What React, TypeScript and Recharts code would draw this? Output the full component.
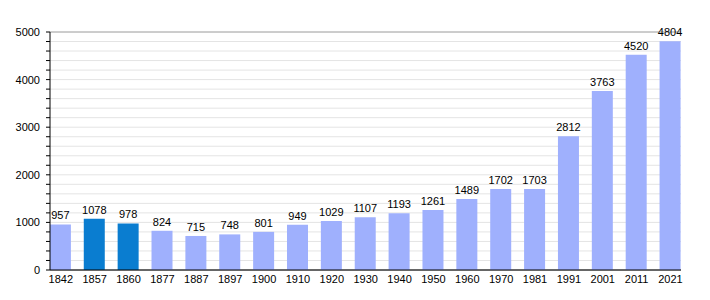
import React from 'react'
import { BarChart, Bar, XAxis, YAxis, CartesianGrid, Cell, LabelList } from 'recharts'

const YEARS = ['1842', '1857', '1860', '1877', '1887', '1897', '1900', '1910', '1920', '1930', '1940', '1950', '1960', '1970', '1981', '1991', '2001', '2011', '2021']
const POPULATION = [957, 1078, 978, 824, 715, 748, 801, 949, 1029, 1107, 1193, 1261, 1489, 1702, 1703, 2812, 3763, 4520, 4804]
const HIGHLIGHTED = ['1857', '1860']
const MAJOR_TICKS = [0, 1000, 2000, 3000, 4000, 5000]
const MINOR_STEP = 200

const data = YEARS.map((year, i) => ({ idx: i, year, pop: POPULATION[i] }))
const minorTicks: number[] = []
for (let v = 0; v <= 5000; v += MINOR_STEP) minorTicks.push(v)

const LIGHT = '#9fb0fd'
const DARK = '#0a7dd0'

// y labels only on the thousands, tick marks on every 200
function YTick(props: any) {
    const { x, y, payload } = props
    if (payload.value % 1000 !== 0) return null
    return (
        <text x={x} y={y} dy={4} textAnchor="end" fill="#000" fontSize={11}>
            {payload.value}
        </text>
    )
}

export default function App() {
    return (
        <div style={{ position: 'absolute', left: 0, top: 0, fontFamily: '"Liberation Sans", Arial, sans-serif', background: '#fff' }}>
            <BarChart width={710} height={300} data={data} margin={{ top: 32, right: 29, bottom: 0, left: 0 }}>
                <CartesianGrid vertical={false} stroke="#e4e4e4" />
                <CartesianGrid vertical={false} yAxisId="major" stroke="#a8a8a8" />
                <XAxis
                    dataKey="idx"
                    type="number"
                    domain={[-0.32, 18.31]}
                    ticks={data.map((d) => d.idx)}
                    interval={0}
                    tickFormatter={(i: number) => YEARS[i]}
                    tickLine={false}
                    tickSize={3}
                    axisLine={{ stroke: '#000' }}
                    tick={{ fill: '#000', fontSize: 11 }}
                    height={30}
                />
                <YAxis
                    domain={[0, 5000]}
                    ticks={minorTicks}
                    interval={0}
                    width={50}
                    tickSize={4}
                    tickMargin={6}
                    axisLine={{ stroke: '#000' }}
                    tickLine={{ stroke: '#000' }}
                    tick={<YTick />}
                />
                <YAxis yAxisId="major" domain={[0, 5000]} ticks={MAJOR_TICKS} hide />
                <Bar dataKey="pop" barSize={21} isAnimationActive={false}>
                    {data.map((d) => (
                        <Cell key={d.year} fill={HIGHLIGHTED.includes(d.year) ? DARK : LIGHT} />
                    ))}
                    <LabelList dataKey="pop" position="top" fill="#000" fontSize={11} />
                </Bar>
            </BarChart>
        </div>
    )
}
